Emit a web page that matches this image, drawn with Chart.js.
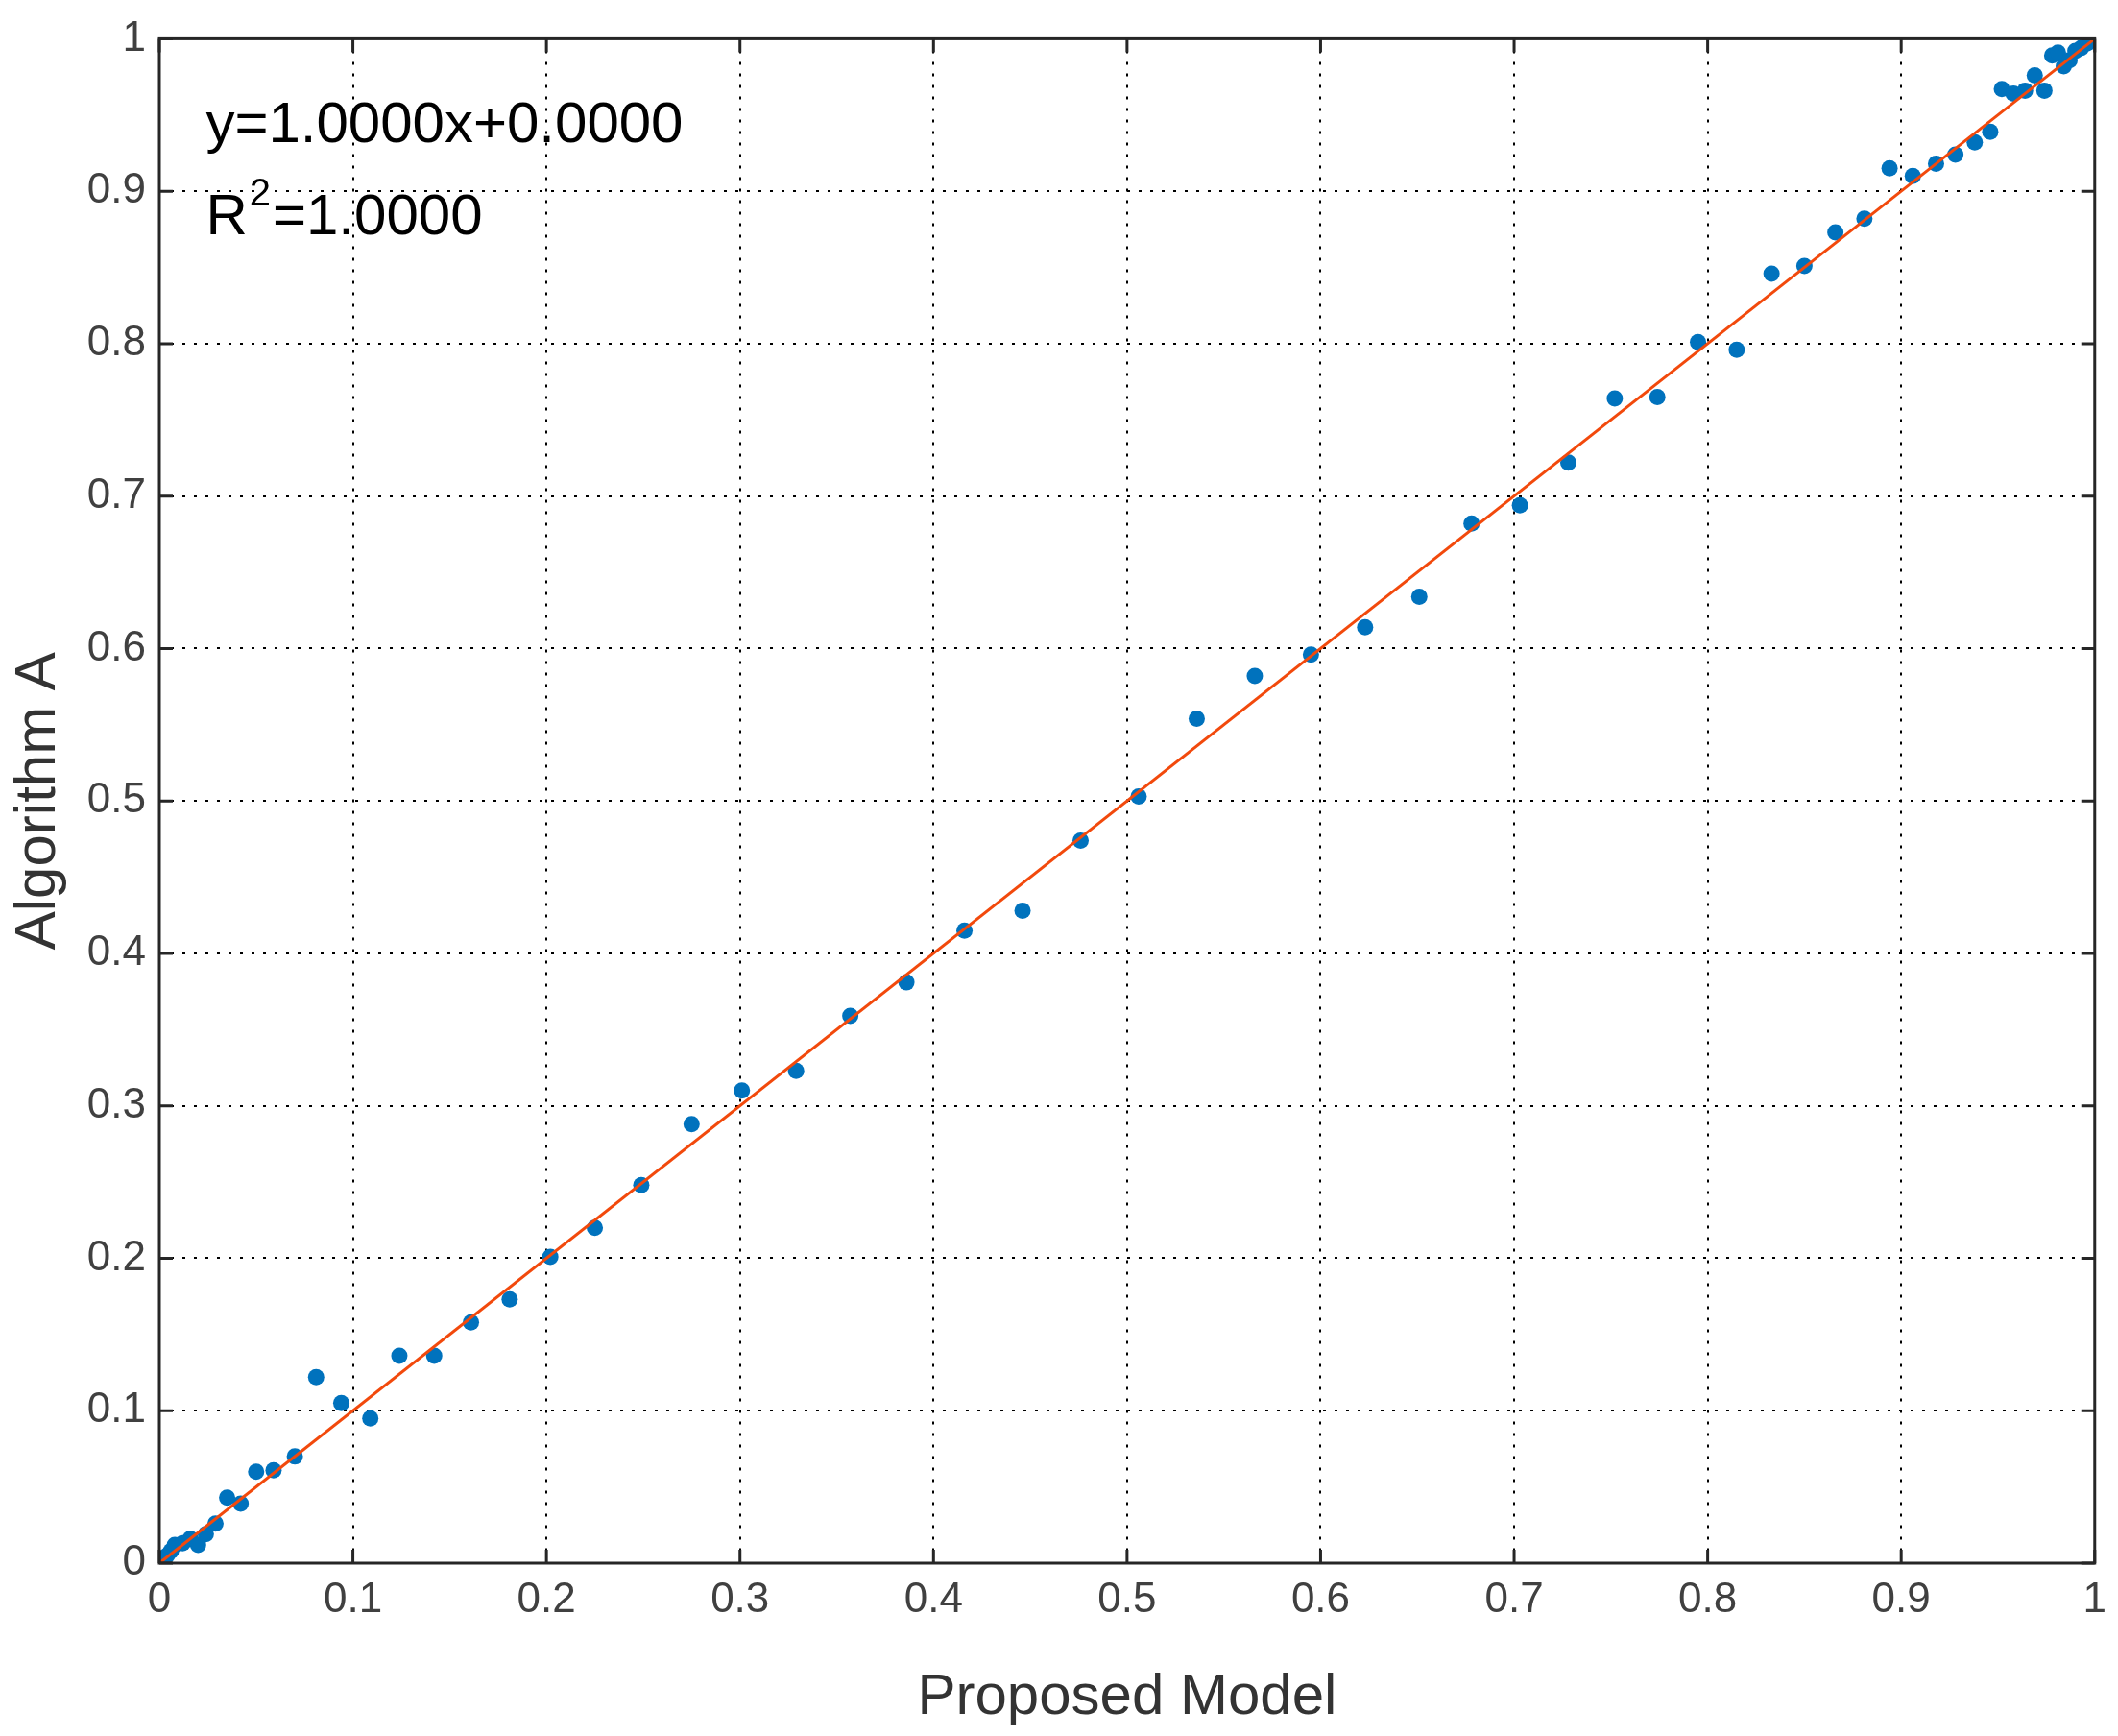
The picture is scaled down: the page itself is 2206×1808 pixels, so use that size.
<!DOCTYPE html>
<html>
<head>
<meta charset="utf-8">
<script src="https://cdn.jsdelivr.net/npm/chart.js@4.4.1/dist/chart.umd.min.js"></script>
<style>
  html, body { margin: 0; padding: 0; background: #fff; }
  #wrap { width: 2206px; height: 1808px; }
</style>
</head>
<body>
<div id="wrap"><canvas id="c" width="2206" height="1808"></canvas></div>
<script>
const xVals = [0.000, 0.002, 0.004, 0.006, 0.008, 0.012, 0.016, 0.020, 0.024, 0.029,
  0.035, 0.042, 0.050, 0.059, 0.070, 0.081, 0.094, 0.109, 0.124, 0.142,
  0.161, 0.181, 0.202, 0.225, 0.249, 0.275, 0.301, 0.329, 0.357, 0.386,
  0.416, 0.446, 0.476, 0.506, 0.536, 0.566, 0.595, 0.623, 0.651, 0.678,
  0.703, 0.728, 0.752, 0.774, 0.795, 0.815, 0.833, 0.850, 0.866, 0.881,
  0.894, 0.906, 0.918, 0.928, 0.938, 0.946, 0.952, 0.958, 0.964, 0.969,
  0.974, 0.978, 0.981, 0.984, 0.987, 0.990, 0.993, 0.996, 0.998, 1.000];
const yVals = [0.000, 0.003, 0.005, 0.008, 0.012, 0.013, 0.016, 0.012, 0.019, 0.026,
  0.043, 0.039, 0.060, 0.061, 0.070, 0.122, 0.105, 0.095, 0.136, 0.136,
  0.158, 0.173, 0.201, 0.220, 0.248, 0.288, 0.310, 0.323, 0.359, 0.381,
  0.415, 0.428, 0.474, 0.503, 0.554, 0.582, 0.596, 0.614, 0.634, 0.682,
  0.694, 0.722, 0.764, 0.765, 0.801, 0.796, 0.846, 0.851, 0.873, 0.882,
  0.915, 0.910, 0.918, 0.924, 0.932, 0.939, 0.967, 0.964, 0.966, 0.976,
  0.966, 0.989, 0.991, 0.982, 0.986, 0.992, 0.994, 0.997, 0.999, 1.000];
const fitX = [0, 1];
const fitY = [0, 1];
const tickVals = [0, 0.1, 0.2, 0.3, 0.4, 0.5, 0.6, 0.7, 0.8, 0.9, 1];

const fmt = v => (v === 0 || v === 1) ? String(v) : v.toFixed(1);
const FONT = 'Arial, "Liberation Sans"';

const frame = {
  id: 'frame',
  afterDraw(chart) {
    const { ctx, chartArea: a, scales } = chart;
    ctx.save();
    ctx.strokeStyle = '#262626';
    ctx.lineWidth = 3;
    ctx.strokeRect(a.left, a.top, a.right - a.left, a.bottom - a.top);
    ctx.beginPath();
    tickVals.forEach(v => {
      const px = scales.x.getPixelForValue(v);
      ctx.moveTo(px, a.bottom); ctx.lineTo(px, a.bottom - 14);
      ctx.moveTo(px, a.top); ctx.lineTo(px, a.top + 14);
      const py = scales.y.getPixelForValue(v);
      ctx.moveTo(a.left, py); ctx.lineTo(a.left + 14, py);
      ctx.moveTo(a.right, py); ctx.lineTo(a.right - 14, py);
    });
    ctx.stroke();
    // annotation
    ctx.fillStyle = '#000';
    ctx.font = '60px ' + FONT;
    ctx.textBaseline = 'alphabetic';
    const tx = scales.x.getPixelForValue(0.024);
    ctx.fillText('y=1.0000x+0.0000', tx, scales.y.getPixelForValue(0.932));
    const by = scales.y.getPixelForValue(0.872);
    ctx.fillText('R', tx, by);
    const rw = ctx.measureText('R').width;
    ctx.font = '40px ' + FONT;
    ctx.fillText('2', tx + rw + 2, by - 30);
    const sw = ctx.measureText('2').width;
    ctx.font = '60px ' + FONT;
    ctx.fillText('=1.0000', tx + rw + sw + 4, by);
    ctx.restore();
  }
};

new Chart(document.getElementById('c'), {
  type: 'scatter',
  data: {
    datasets: [
      {
        data: xVals.map((x, i) => ({ x: x, y: yVals[i] })),
        backgroundColor: '#0072BD',
        borderWidth: 0,
        pointRadius: 8.5,
        order: 2
      },
      {
        type: 'line',
        data: fitX.map((x, i) => ({ x: x, y: fitY[i] })),
        borderColor: '#F2490C',
        borderWidth: 3,
        pointRadius: 0,
        order: 1
      }
    ]
  },
  options: {
    responsive: false,
    animation: false,
    layout: { padding: { top: 38, right: 23, left: 0, bottom: 0 } },
    plugins: { legend: { display: false }, tooltip: { enabled: false } },
    scales: {
      x: {
        type: 'linear', min: 0, max: 1,
        afterBuildTicks: s => { s.ticks = tickVals.map(v => ({ value: v })); },
        afterFit: s => { s.height = 180; },
        ticks: { callback: fmt, color: '#404040', font: { size: 44, family: FONT }, padding: 12, maxRotation: 0 },
        grid: { color: '#000', lineWidth: 2, drawTicks: false },
        border: { display: false, dash: [3, 9] },
        title: { display: true, text: 'Proposed Model', color: '#333', font: { size: 60, family: FONT }, padding: { top: 4 } }
      },
      y: {
        type: 'linear', min: 0, max: 1,
        afterBuildTicks: s => { s.ticks = tickVals.map(v => ({ value: v })); },
        afterFit: s => { s.width = 166; },
        ticks: { callback: fmt, color: '#404040', font: { size: 44, family: FONT }, padding: 14 },
        grid: { color: '#000', lineWidth: 2, drawTicks: false },
        border: { display: false, dash: [3, 9] },
        title: { display: true, text: 'Algorithm A', color: '#333', font: { size: 60, family: FONT }, padding: { bottom: 0 } }
      }
    }
  },
  plugins: [frame]
});
</script>
</body>
</html>
